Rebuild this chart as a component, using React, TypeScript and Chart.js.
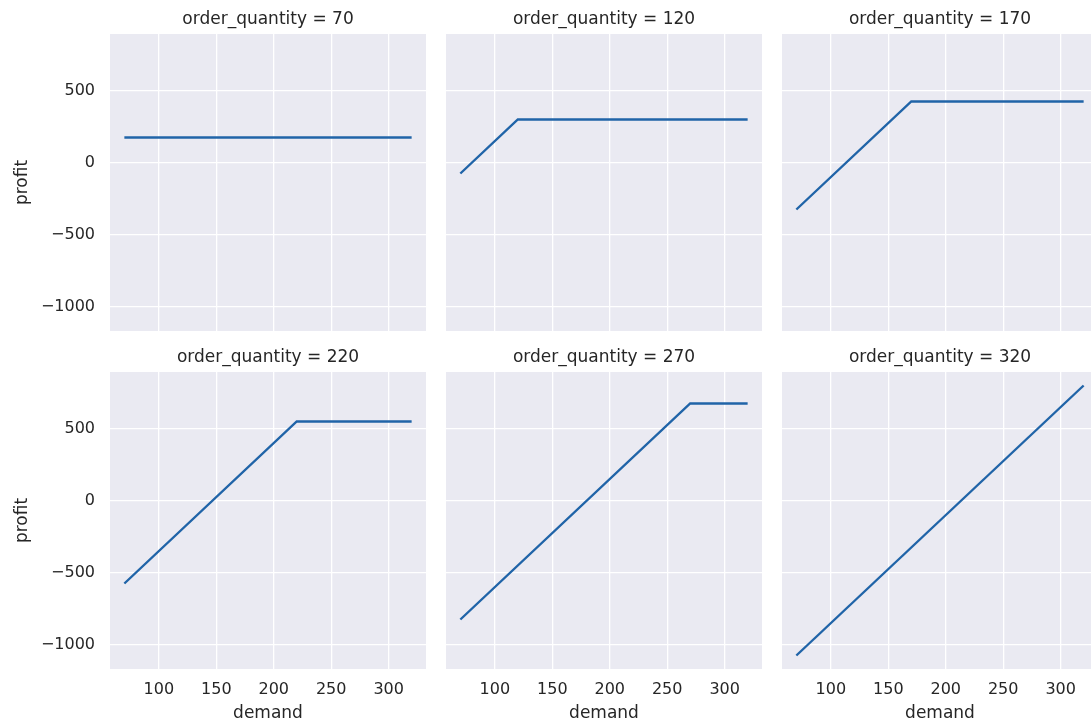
import React, { useEffect, useRef } from "react";
import { Chart, registerables } from "chart.js";

Chart.register(...registerables);

// ---- data (breakpoints of each piecewise-linear profit curve) ----
const orderQuantities = [70, 120, 170, 220, 270, 320];

const demand_q70 = [70, 320];
const profit_q70 = [175, 175];

const demand_q120 = [70, 120, 320];
const profit_q120 = [-75, 300, 300];

const demand_q170 = [70, 170, 320];
const profit_q170 = [-325, 425, 425];

const demand_q220 = [70, 220, 320];
const profit_q220 = [-575, 550, 550];

const demand_q270 = [70, 270, 320];
const profit_q270 = [-825, 675, 675];

const demand_q320 = [70, 320];
const profit_q320 = [-1075, 800];

const demandSeries = [demand_q70, demand_q120, demand_q170, demand_q220, demand_q270, demand_q320];
const profitSeries = [profit_q70, profit_q120, profit_q170, profit_q220, profit_q270, profit_q320];

const xTickValues = [100, 150, 200, 250, 300];
const yTickValues = [-1000, -500, 0, 500];

const X_MIN = 57.5;
const X_MAX = 332.5;
const Y_MIN = -1168.75;
const Y_MAX = 893.75;

// ---- layout ----
const COL_LEFT = [110, 446, 782];
const ROW_TOP = [34, 372];
const PANEL_W = 316;
const PANEL_H = 297;
const LEFT_SPACE = 110;
const TOP_SPACE = 34;
const BOTTOM_SPACE = 56;
const RIGHT_SPACE = 4;

const FONT = "'DejaVu Sans', sans-serif";
const TEXT_COLOR = "#262626";
const LINE_COLOR = "#2064a8";

const facetPlugin = {
  id: "facet",
  beforeDraw(chart: any) {
    const { ctx, chartArea } = chart;
    ctx.save();
    ctx.fillStyle = "#EAEAF2";
    ctx.fillRect(chartArea.left, chartArea.top, chartArea.right - chartArea.left, chartArea.bottom - chartArea.top);
    ctx.restore();
  },
  afterDraw(chart: any, _args: any, opts: any) {
    const { ctx, chartArea } = chart;
    ctx.save();
    ctx.fillStyle = TEXT_COLOR;
    ctx.font = `17px ${FONT}`;
    ctx.textAlign = "center";
    ctx.textBaseline = "alphabetic";
    ctx.fillText(opts.title, (chartArea.left + chartArea.right) / 2, chartArea.top - 10);
    ctx.restore();
  },
};

function Panel({ idx }: { idx: number }) {
  const ref = useRef<HTMLCanvasElement | null>(null);
  const row = Math.floor(idx / 3);
  const col = idx % 3;
  const showY = col === 0;
  const showX = row === 1;
  const width = LEFT_SPACE + PANEL_W + RIGHT_SPACE;
  const height = TOP_SPACE + PANEL_H + BOTTOM_SPACE;
  const left = COL_LEFT[col] - LEFT_SPACE;
  const top = ROW_TOP[row] - TOP_SPACE;

  useEffect(() => {
    if (!ref.current) return;
    const points = demandSeries[idx].map((d, i) => ({ x: d, y: profitSeries[idx][i] }));
    const chart = new Chart(ref.current, {
      type: "line",
      data: {
        datasets: [
          {
            data: points,
            borderColor: LINE_COLOR,
            borderWidth: 2.4,
            pointRadius: 0,
            tension: 0,
            fill: false,
          },
        ],
      },
      options: {
        animation: false,
        responsive: false,
        devicePixelRatio: 1,
        layout: { padding: { left: 0, top: TOP_SPACE, right: RIGHT_SPACE, bottom: 0 } },
        plugins: {
          legend: { display: false },
          tooltip: { enabled: false },
          facet: { title: `order_quantity = ${orderQuantities[idx]}` },
        } as any,
        scales: {
          x: {
            type: "linear",
            min: X_MIN,
            max: X_MAX,
            afterBuildTicks: (scale: any) => {
              scale.ticks = xTickValues.map((v) => ({ value: v }));
            },
            afterFit: (scale: any) => {
              scale.height = BOTTOM_SPACE;
            },
            border: { display: false },
            grid: { color: "#ffffff", lineWidth: 1.3, drawTicks: false },
            ticks: {
              display: showX,
              padding: 11,
              color: TEXT_COLOR,
              font: { family: FONT, size: 16 },
              maxRotation: 0,
              autoSkip: false,
              callback: (v: any) => String(v),
            },
            title: {
              display: showX,
              text: "demand",
              color: TEXT_COLOR,
              font: { family: FONT, size: 17 },
              padding: { top: 0, bottom: 1 },
            },
          },
          y: {
            type: "linear",
            min: Y_MIN,
            max: Y_MAX,
            afterBuildTicks: (scale: any) => {
              scale.ticks = yTickValues.map((v) => ({ value: v }));
            },
            afterFit: (scale: any) => {
              scale.width = LEFT_SPACE;
            },
            border: { display: false },
            grid: { color: "#ffffff", lineWidth: 1.3, drawTicks: false },
            ticks: {
              display: showY,
              padding: 15,
              color: TEXT_COLOR,
              font: { family: FONT, size: 16 },
              autoSkip: false,
              callback: (v: any) => String(v).replace("-", "\u2212"),
            },
            title: {
              display: showY,
              text: "profit",
              color: TEXT_COLOR,
              font: { family: FONT, size: 17 },
              padding: { top: 12, bottom: 0 },
            },
          },
        },
      },
      plugins: [facetPlugin as any],
    });
    return () => chart.destroy();
  }, [idx]);

  return (
    <canvas
      ref={ref}
      width={width}
      height={height}
      style={{ position: "absolute", left, top, width, height }}
    />
  );
}

export default function App() {
  return (
    <div
      style={{
        position: "absolute",
        left: 0,
        top: 0,
        width: 1091,
        height: 722,
        overflow: "hidden",
        background: "#ffffff",
      }}
    >
      {orderQuantities.map((_, i) => (
        <Panel key={i} idx={i} />
      ))}
    </div>
  );
}
